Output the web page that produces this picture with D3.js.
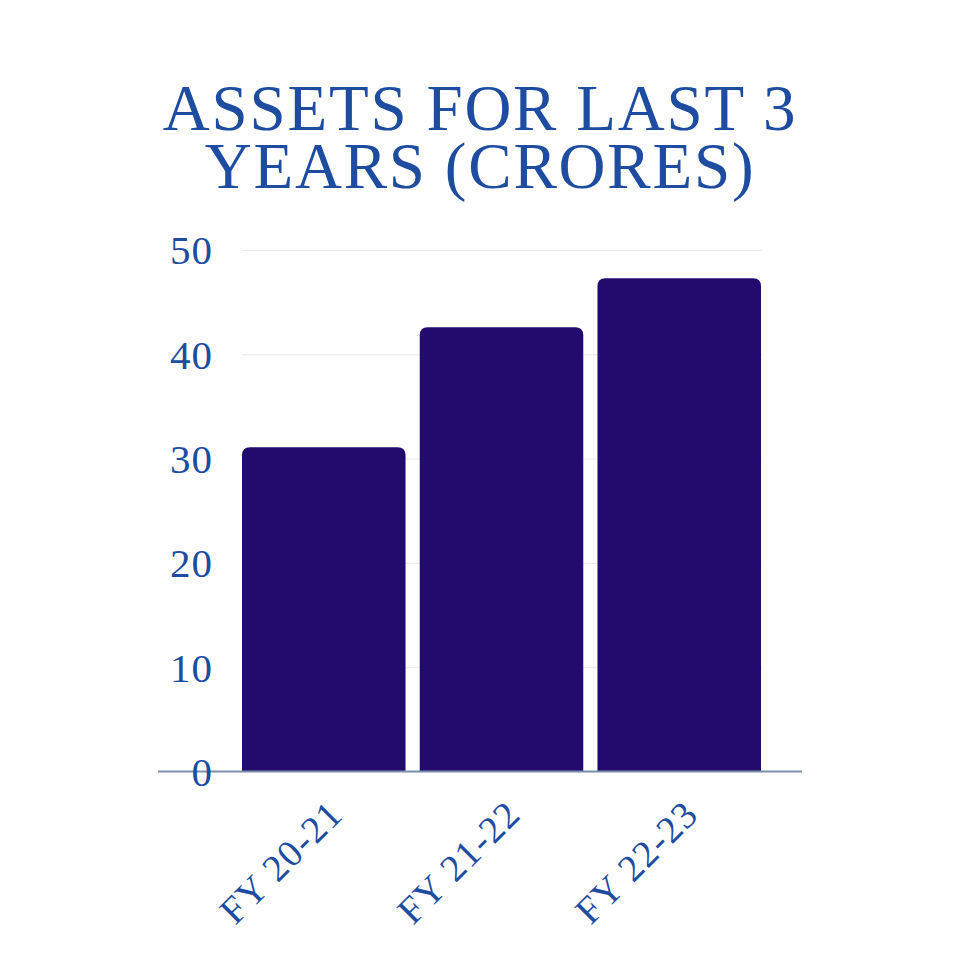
<!DOCTYPE html>
<html>
<head>
<meta charset="utf-8">
<script src="https://cdn.jsdelivr.net/npm/d3@7"></script>
<style>
  html, body { margin: 0; padding: 0; background: #ffffff; }
  svg { display: block; }
</style>
</head>
<body>
<div id="chart"></div>
<script>
const years = ['FY 20-21', 'FY 21-22', 'FY 22-23'];
const assets = [31.1, 42.6, 47.3];
const yTicks = [0, 10, 20, 30, 40, 50];
const titleLines = ['ASSETS FOR LAST 3', 'YEARS (CRORES)'];

const width = 960;
const height = 960;
const plotLeft = 242, plotRight = 761, plotTop = 250, plotBottom = 771.5;
const textBlue = '#1d4ca0';
const barColor = '#220b6d';
const font = '"Liberation Serif", "Times New Roman", serif';

const svg = d3.select('#chart').append('svg').attr('width', width).attr('height', height);

// title
svg.append('g').selectAll('text').data(titleLines).enter().append('text')
  .attr('x', width / 2)
  .attr('y', (d, i) => 130 + i * 58)
  .attr('text-anchor', 'middle')
  .attr('font-family', font)
  .attr('font-size', 65)
  .attr('letter-spacing', 1.8)
  .attr('fill', textBlue)
  .text(d => d);

const x = d3.scaleBand().domain(years).range([plotLeft, plotRight]).paddingInner(0.08).paddingOuter(0);
const y = d3.scaleLinear().domain([0, 50]).range([plotBottom, plotTop]);

// gridlines
svg.append('g')
  .attr('transform', `translate(${plotLeft},0)`)
  .call(d3.axisLeft(y).tickValues(yTicks).tickSize(-(plotRight - plotLeft + 1)).tickFormat(''))
  .call(g => g.select('.domain').remove())
  .call(g => g.selectAll('line').attr('stroke', '#ececec').attr('stroke-width', 1));

// bars, rounded top corners only
const r = 8;
svg.append('g').selectAll('path').data(years).enter().append('path')
  .attr('fill', barColor)
  .attr('d', (d, i) => {
    const x0 = x(d), x1 = x(d) + x.bandwidth();
    const y0 = y(assets[i]), y1 = y(0);
    return `M${x0},${y1} L${x0},${y0 + r} Q${x0},${y0} ${x0 + r},${y0} L${x1 - r},${y0} Q${x1},${y0} ${x1},${y0 + r} L${x1},${y1} Z`;
  });

// baseline
svg.append('line')
  .attr('x1', 158).attr('x2', 802)
  .attr('y1', y(0)).attr('y2', y(0))
  .attr('stroke', '#7d90ab').attr('stroke-width', 2);

// y labels
svg.append('g')
  .attr('transform', 'translate(213,0)')
  .call(d3.axisLeft(y).tickValues(yTicks).tickSize(0).tickPadding(0))
  .call(g => g.select('.domain').remove())
  .call(g => g.selectAll('text')
    .attr('font-family', font)
    .attr('font-size', 41)
    .attr('letter-spacing', 1)
    .attr('fill', textBlue)
    .attr('dy', '0.34em'));

// x labels
svg.append('g')
  .attr('transform', `translate(0,${y(0)})`)
  .call(d3.axisBottom(x).tickSize(0))
  .call(g => g.select('.domain').remove())
  .call(g => g.selectAll('text')
    .attr('x', null).attr('y', null).attr('dy', null)
    .attr('transform', 'translate(21,45) rotate(-45)')
    .attr('text-anchor', 'end')
    .attr('font-family', font)
    .attr('font-size', 38)
    .attr('letter-spacing', 1.2)
    .attr('fill', textBlue));
</script>
</body>
</html>
